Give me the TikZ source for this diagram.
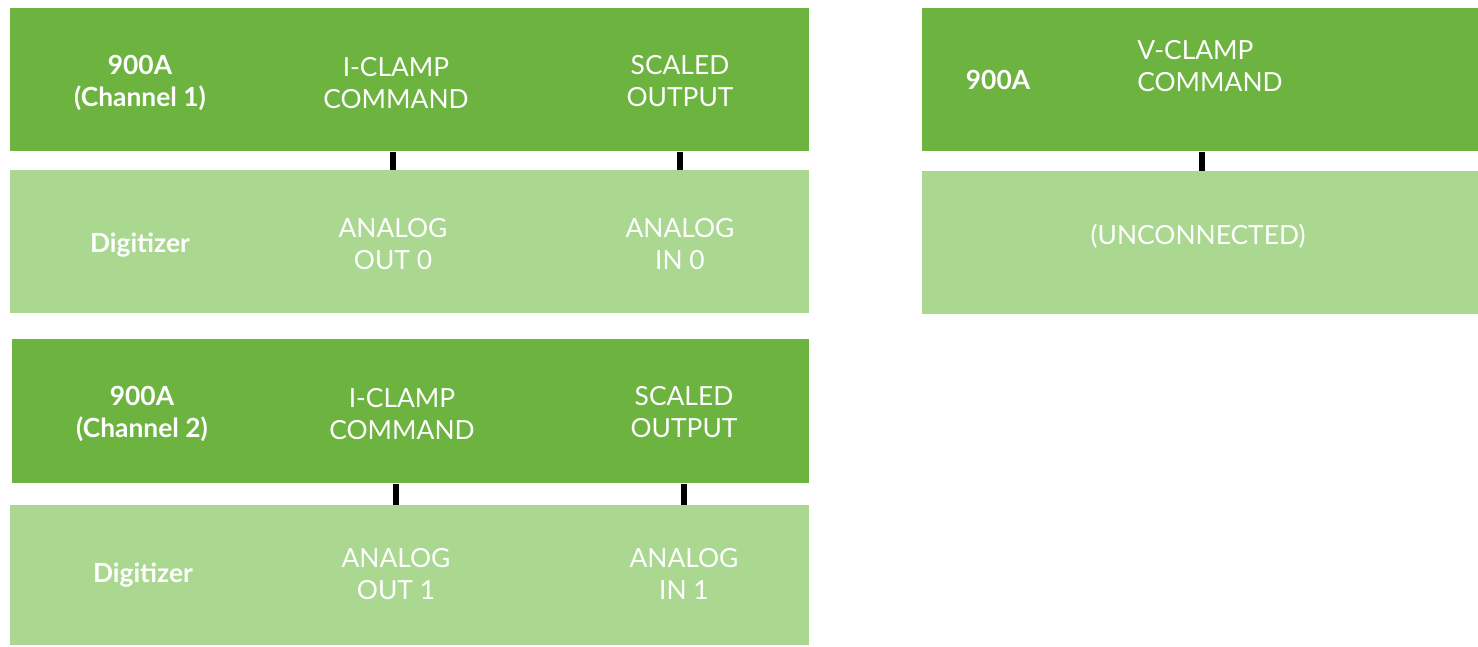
\documentclass[tikz,border=0pt]{standalone}
\usepackage{fontspec}
\setmainfont{Lato}
\usepackage{tikz}
\usetikzlibrary{positioning,calc}
\definecolor{ampgreen}{HTML}{6DB33F}
\definecolor{digigreen}{HTML}{AAD891}
\tikzset{
  ampbox/.style={rectangle, fill=ampgreen, anchor=north west, inner sep=0pt, minimum width=15.98cm, minimum height=2.86cm},
  digibox/.style={rectangle, fill=digigreen, anchor=north west, inner sep=0pt, minimum width=15.98cm, minimum height=2.86cm},
  lbl/.style={text=white, align=center, inner sep=0pt, font=\fontsize{15}{18}\selectfont},
  blbl/.style={lbl, font=\fontsize{15}{18}\selectfont\bfseries},
  wire/.style={line width=3.4pt, draw=black}
}
\begin{document}
\begin{tikzpicture}[x=0.02cm, y=-0.02cm]
  \useasboundingbox (0,0) rectangle (1478,646);

  % channel 1
  \node[ampbox] (amp1) at (10,8) {};
  \node[digibox] (dig1) at (10,170) {};
  \node[blbl] (amp1name) at (140,83) {900A\\(Channel 1)};
  \node[lbl] (icmd1) at (396,83) {I-CLAMP\\COMMAND};
  \node[lbl] (sout1) at (680,81) {SCALED\\OUTPUT};
  \node[blbl] (dig1name) at (140,245) {Digitizer};
  \node[lbl] (aout0) at (393,244) {ANALOG\\OUT 0};
  \node[lbl] (ain0) at (680,244) {ANALOG\\IN 0};

  % channel 2
  \node[ampbox, minimum width=15.94cm, minimum height=2.88cm] (amp2) at (12,339) {};
  \node[digibox, minimum height=2.8cm] (dig2) at (10,505) {};
  \node[blbl] (amp2name) at (142,414) {900A\\(Channel 2)};
  \node[lbl] (icmd2) at (402,414) {I-CLAMP\\COMMAND};
  \node[lbl] (sout2) at (684,412) {SCALED\\OUTPUT};
  \node[blbl] (dig2name) at (143,575) {Digitizer};
  \node[lbl] (aout1) at (396,574) {ANALOG\\OUT 1};
  \node[lbl] (ain1) at (684,574) {ANALOG\\IN 1};

  % v-clamp
  \node[ampbox, minimum width=11.12cm] (amp3) at (922,8) {};
  \node[digibox, minimum width=11.12cm] (dig3) at (922,171) {};
  \node[blbl] (amp3name) at (998,80) {900A};
  \node[lbl, align=left] (vcmd) at (1210,66) {V-CLAMP\\COMMAND};
  \node[lbl] (unconn) at (1198,236) {(UNCONNECTED)};
  \coordinate (vtap) at (1202,160);

  % wires
  \draw[wire] (aout0 |- amp1.south) -- (aout0 |- dig1.north);
  \draw[wire] (ain0 |- amp1.south) -- (ain0 |- dig1.north);
  \draw[wire] (aout1 |- amp2.south) -- (aout1 |- dig2.north);
  \draw[wire] (ain1 |- amp2.south) -- (ain1 |- dig2.north);
  \draw[wire] (vtap |- amp3.south) -- (vtap |- dig3.north);
\end{tikzpicture}
\end{document}
